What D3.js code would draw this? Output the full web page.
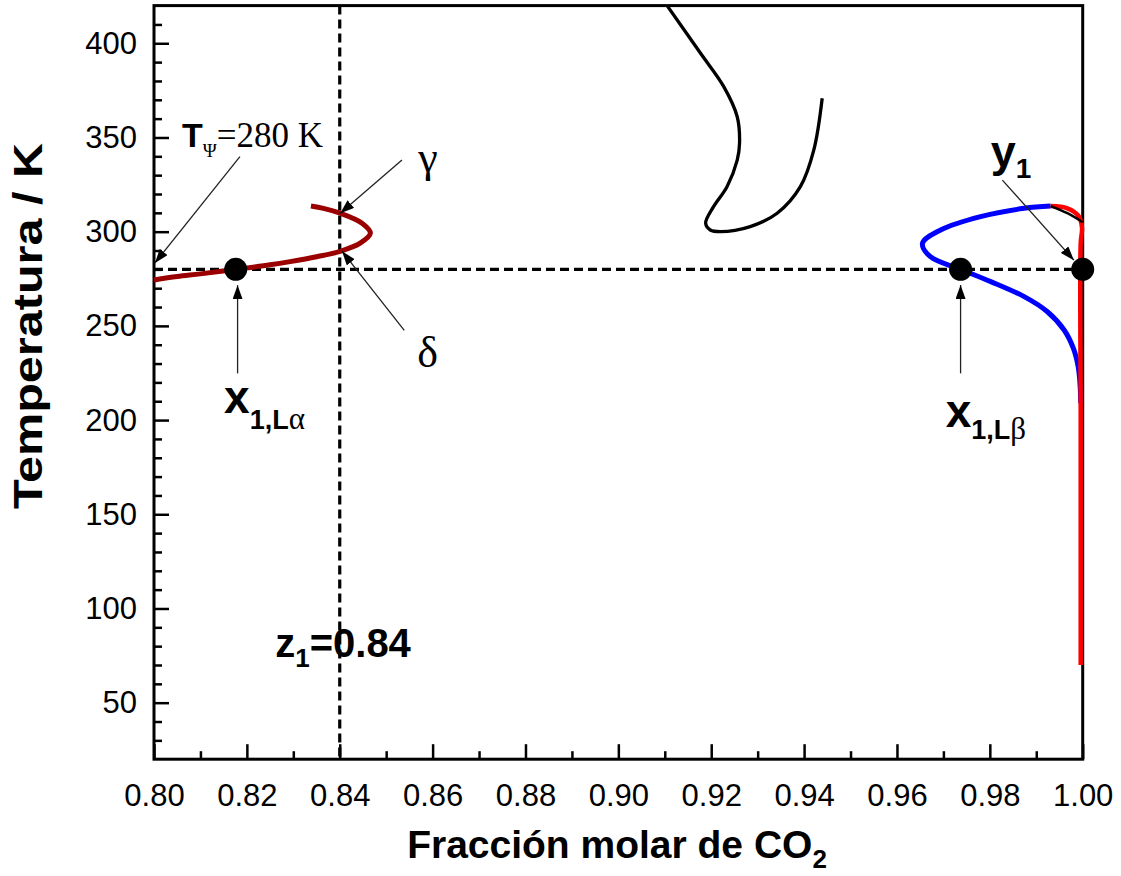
<!DOCTYPE html>
<html>
<head>
<meta charset="utf-8">
<script src="https://cdn.jsdelivr.net/npm/d3@7"></script>
<style>
  body { margin: 0; background: #fff; }
  svg { display: block; }
  text { font-family: "Liberation Sans", Arial, sans-serif; }
  .serif { font-family: "Liberation Serif", "Times New Roman", serif; }
</style>
</head>
<body>
<svg id="chart" width="1121" height="876"></svg>
<script>
// Axis ranges and ticks
const xDomain = [0.80, 1.00];
const yDomain = [20, 420];
const xMajorTicks = [0.80, 0.82, 0.84, 0.86, 0.88, 0.90, 0.92, 0.94, 0.96, 0.98, 1.00];
const xMinorTicks = [0.81, 0.83, 0.85, 0.87, 0.89, 0.91, 0.93, 0.95, 0.97, 0.99];
const yMajorTicks = [50, 100, 150, 200, 250, 300, 350, 400];
const yMinorTicks = [30, 40, 60, 70, 80, 90, 110, 120, 130, 140, 160, 170, 180, 190, 210, 220, 230, 240,
                     260, 270, 280, 290, 310, 320, 330, 340, 360, 370, 380, 390, 410];

// Phase envelope branches: [x CO2, T / K]
const liquidAlpha = [
  [0.800, 274.4], [0.805, 276.2], [0.810, 277.6], [0.8176, 280.0], [0.825, 282.4], [0.8293, 284.1],
  [0.835, 286.7], [0.8401, 289.6], [0.8444, 293.9], [0.8466, 299.2], [0.8448, 304.5],
  [0.8401, 309.8], [0.8365, 312.4], [0.8338, 313.6]
];
const criticalLine = [
  [0.9105, 420.0], [0.9177, 394.7], [0.9227, 377.0], [0.9256, 361.0], [0.9261, 347.0],
  [0.9256, 338.0], [0.9234, 323.9], [0.9205, 313.3], [0.9188, 304.5], [0.9198, 300.9],
  [0.9220, 300.0], [0.9284, 302.7], [0.9342, 309.8], [0.9392, 323.9], [0.9421, 343.4], [0.9439, 370.8]
];
const liquidBeta = [
  [0.9931, 313.6], [0.9874, 312.4], [0.9780, 308.0], [0.9694, 300.9], [0.9655, 293.8],
  [0.9672, 286.7], [0.9737, 280.0], [0.9802, 273.5], [0.9874, 265.5], [0.9924, 257.5],
  [0.9960, 247.8], [0.9980, 238.0], [0.99905, 228.0], [0.99945, 218.0], [0.99957, 209.0]
];
const vaporRed = [
  [0.9931, 313.6], [0.9967, 312.4], [0.9992, 308.0], [0.99985, 302.0], [0.99957, 294.0],
  [0.99957, 200.0], [0.99957, 70.0]
];
const vaporBlack = [
  [0.9931, 313.6], [0.9967, 309.8], [1.0000, 305.0]
];

// Three-phase temperature and feed composition
const tPsi = 280;
const z1 = 0.84;
const threePhasePoints = [[0.8176, 280], [0.9737, 280], [1.0000, 280]];

// Annotation arrows: [from x, from T, to x, to T]
const arrows = [
  [0.8185, 339.8, 0.8002, 283.4],
  [0.8534, 338.0, 0.8401, 309.8],
  [0.8539, 247.6, 0.8405, 289.6],
  [0.8180, 224.8, 0.8180, 271.6],
  [0.9737, 224.8, 0.9737, 271.7],
  [0.9827, 327.4, 0.9981, 284.9]
];

const svg = d3.select("#chart");
const x = d3.scaleLinear().domain(xDomain).range([154, 1082.7]);
const y = d3.scaleLinear().domain(yDomain).range([759.2, 5.6]);

// Axes with inward ticks
svg.append("g").attr("transform", `translate(0,${y(20)})`)
  .call(d3.axisBottom(x).tickValues(xMinorTicks).tickSizeInner(-8).tickSizeOuter(0).tickFormat(""))
  .call(g => g.select(".domain").remove());
svg.append("g").attr("transform", `translate(0,${y(20)})`)
  .call(d3.axisBottom(x).tickValues(xMajorTicks).tickSizeInner(-15).tickSizeOuter(0)
        .tickPadding(25).tickFormat(d3.format(".2f")))
  .call(g => g.select(".domain").remove())
  .call(g => g.selectAll("text").attr("font-size", 31).attr("font-family", "Liberation Sans, Arial, sans-serif"));
svg.append("g").attr("transform", `translate(${x(0.80)},0)`)
  .call(d3.axisLeft(y).tickValues(yMinorTicks).tickSizeInner(-8).tickSizeOuter(0).tickFormat(""))
  .call(g => g.select(".domain").remove());
svg.append("g").attr("transform", `translate(${x(0.80)},0)`)
  .call(d3.axisLeft(y).tickValues(yMajorTicks).tickSizeInner(-15).tickSizeOuter(0)
        .tickPadding(17).tickFormat(d3.format("d")))
  .call(g => g.select(".domain").remove())
  .call(g => g.selectAll("text").attr("font-size", 31).attr("font-family", "Liberation Sans, Arial, sans-serif"));
svg.selectAll(".tick line").attr("stroke", "#000").attr("stroke-width", 2.5);

// Frame
svg.append("rect")
  .attr("x", x(0.80)).attr("y", y(420))
  .attr("width", x(1.00) - x(0.80)).attr("height", y(20) - y(420))
  .attr("fill", "none").attr("stroke", "#000").attr("stroke-width", 3);

// Dashed guide lines
svg.append("line")
  .attr("x1", x(0.80)).attr("x2", x(1.00)).attr("y1", y(tPsi)).attr("y2", y(tPsi))
  .attr("stroke", "#000").attr("stroke-width", 3.2).attr("stroke-dasharray", "9,5");
svg.append("line")
  .attr("x1", x(z1)).attr("x2", x(z1)).attr("y1", y(420)).attr("y2", y(20))
  .attr("stroke", "#000").attr("stroke-width", 3.2).attr("stroke-dasharray", "9,5");

const line = d3.line().x(d => x(d[0])).y(d => y(d[1])).curve(d3.curveCatmullRom.alpha(0.5));
const plot = svg.append("g");
plot.append("path").datum(liquidAlpha).attr("d", line)
  .attr("fill", "none").attr("stroke", "#9b0000").attr("stroke-width", 5);
plot.append("path").datum(criticalLine).attr("d", line)
  .attr("fill", "none").attr("stroke", "#000").attr("stroke-width", 3.3);
plot.append("path").datum(liquidBeta).attr("d", line)
  .attr("fill", "none").attr("stroke", "#0000ff").attr("stroke-width", 5);
plot.append("path").datum(vaporRed).attr("d", line)
  .attr("fill", "none").attr("stroke", "#ff0000").attr("stroke-width", 4.5);
plot.append("path").datum(vaporBlack).attr("d", line)
  .attr("fill", "none").attr("stroke", "#000").attr("stroke-width", 2.5);

// Three-phase compositions
plot.selectAll("circle").data(threePhasePoints).join("circle")
  .attr("cx", d => x(d[0])).attr("cy", d => y(d[1])).attr("r", 11.5).attr("fill", "#000");

// Arrows
const defs = svg.append("defs");
defs.append("marker").attr("id", "head")
  .attr("viewBox", "0 0 14 10").attr("refX", 14).attr("refY", 5)
  .attr("markerWidth", 14).attr("markerHeight", 10).attr("markerUnits", "userSpaceOnUse")
  .attr("orient", "auto")
  .append("path").attr("d", "M0,0 L14,5 L0,10 Z").attr("fill", "#000");
svg.append("g").selectAll("line").data(arrows).join("line")
  .attr("x1", d => x(d[0])).attr("y1", d => y(d[1]))
  .attr("x2", d => x(d[2])).attr("y2", d => y(d[3]))
  .attr("stroke", "#222").attr("stroke-width", 1.3).attr("marker-end", "url(#head)");

// Annotations
const tLab = svg.append("text").attr("x", x(0.80603)).attr("y", y(345));
tLab.append("tspan").text("T").attr("font-weight", "bold").attr("font-size", 34);
tLab.append("tspan").text("Ψ").attr("class", "serif").attr("font-size", 19).attr("dy", 10);
tLab.append("tspan").text("=280 K").attr("class", "serif").attr("font-size", 35).attr("dy", -10);

svg.append("text").attr("class", "serif").attr("x", x(0.8569)).attr("y", y(331.7))
  .attr("font-size", 44).text("γ");
svg.append("text").attr("class", "serif").attr("x", x(0.8567)).attr("y", y(228.2))
  .attr("font-size", 44).text("δ");

function subLabel(px, py, main, sub, greek, mainSize, subSize, subDy) {
  const t = svg.append("text").attr("x", px).attr("y", py).attr("font-weight", "bold");
  t.append("tspan").text(main).attr("font-size", mainSize);
  t.append("tspan").text(sub).attr("font-size", subSize).attr("dy", subDy);
  if (greek) t.append("tspan").text(greek).attr("class", "serif").attr("font-weight", "normal").attr("font-size", subSize + 4);
  return t;
}
subLabel(x(0.8151), y(203.9), "x", "1,L", "α", 46, 27, 16);
subLabel(x(0.9705), y(196.3), "x", "1,L", "β", 46, 27, 12);
subLabel(x(0.9802), y(334.5), "y", "1", null, 45, 28, 11);

const zLab = svg.append("text").attr("x", x(0.8261)).attr("y", y(74.2)).attr("font-weight", "bold");
zLab.append("tspan").text("z").attr("font-size", 40);
zLab.append("tspan").text("1").attr("font-size", 26).attr("dy", 10);
zLab.append("tspan").text("=0.84").attr("font-size", 40).attr("dy", -10);

// Axis titles
svg.append("text").attr("transform", "translate(42,326) rotate(-90)")
  .attr("text-anchor", "middle").attr("font-weight", "bold").attr("font-size", 40)
  .attr("textLength", 366).attr("lengthAdjust", "spacingAndGlyphs")
  .text("Temperatura / K");
const xt = svg.append("text").attr("x", 617).attr("y", 858)
  .attr("text-anchor", "middle").attr("font-weight", "bold").attr("font-size", 39);
xt.append("tspan").text("Fracción molar de CO");
xt.append("tspan").text("2").attr("font-size", 26).attr("dy", 10);
</script>
</body>
</html>
